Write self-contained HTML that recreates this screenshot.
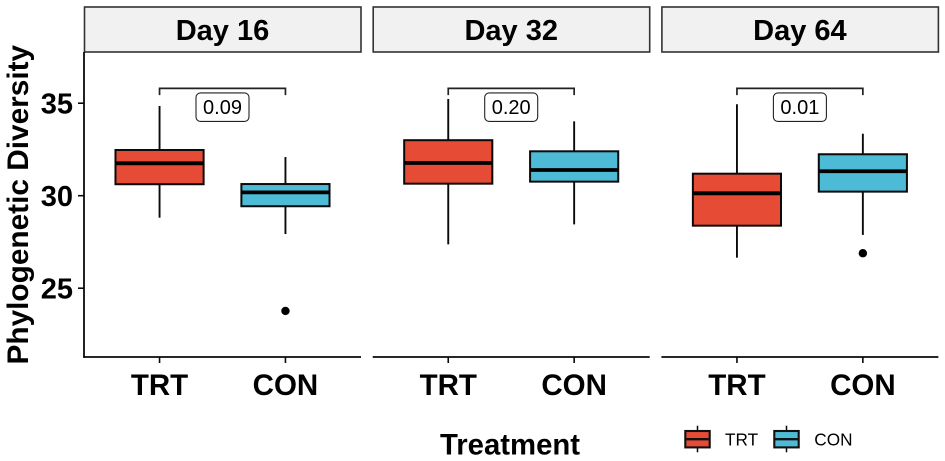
<!DOCTYPE html>
<html lang="en">
<head>
<meta charset="utf-8">
<title>Phylogenetic Diversity by Treatment</title>
<style>
html,body{margin:0;padding:0;background:#fff;width:945px;height:461px;overflow:hidden}
svg{display:block}
text{font-family:"Liberation Sans",Arial,sans-serif;fill:#000}
</style>
</head>
<body>
<svg id="chart" xmlns="http://www.w3.org/2000/svg" width="945" height="461" viewBox="0 0 945 461">
<text transform="translate(28,364.5) rotate(-90)" font-size="29.8" font-weight="700">Phylogenetic Diversity</text>
<text x="440" y="454.5" font-size="29.3" font-weight="700">Treatment</text>
</svg>
<script>
const panelTitles = ['Day 16', 'Day 32', 'Day 64'];
const categories = ['TRT', 'CON'];
const yTicks = [25, 30, 35];
const pLabels = ['0.09', '0.20', '0.01'];
const bracketLevel = 35.8;

const trtWhiskerLow = [28.81, 27.37, 26.65];
const trtQ1 = [30.62, 30.65, 28.38];
const trtMedian = [31.75, 31.77, 30.13];
const trtQ3 = [32.47, 33.00, 31.19];
const trtWhiskerHigh = [34.85, 35.23, 34.94];
const trtOutliers = [[], [], []];

const conWhiskerLow = [27.93, 28.45, 27.88];
const conQ1 = [29.43, 30.76, 30.22];
const conMedian = [30.18, 31.39, 31.32];
const conQ3 = [30.63, 32.40, 32.24];
const conWhiskerHigh = [32.09, 34.02, 33.35];
const conOutliers = [[23.77], [], [26.89]];

const seriesColors = ['#E64B35', '#4DBBD5'];
const INK = '#0a0a0a';
const svg = document.getElementById('chart');
const NS = 'http://www.w3.org/2000/svg';

const panelW = 277;
const panelGap = 11.7;
const plotLeft = 84;
const plotTop = 52;
const plotBottom = 357;

function panelLeft(p) { return plotLeft + p * (panelW + panelGap); }
function yScale(v) { return 195.7 - (v - 30) * 18.5; }
function xStep() { return panelW / 2.2; }
function xScale(p, c) { return panelLeft(p) + xStep() * (0.6 + c); }

function el(parent, tag, attrs, txt) {
  const n = document.createElementNS(NS, tag);
  for (const k in attrs) n.setAttribute(k, attrs[k]);
  if (txt !== undefined) n.textContent = txt;
  parent.appendChild(n);
  return n;
}

function drawBox(g, p, c, low, q1, med, q3, high, outliers) {
  const cx = xScale(p, c);
  const halfW = xStep() * 0.35;
  const whiskerTop = el(g, 'line', {x1: cx, x2: cx, y1: yScale(q3), y2: yScale(high), stroke: INK, 'stroke-width': 1.9});
  
  
  const whiskerBottom = el(g, 'line', {x1: cx, x2: cx, y1: yScale(q1), y2: yScale(low), stroke: INK, 'stroke-width': 1.9});
  
  
  const box = el(g, 'rect', {x: cx - halfW, y: yScale(q3), width: halfW * 2, height: yScale(q1) - yScale(q3), fill: seriesColors[c], stroke: INK, 'stroke-width': 2});
  
  
  const median = el(g, 'line', {x1: cx - halfW, x2: cx + halfW, y1: yScale(med), y2: yScale(med), stroke: '#000', 'stroke-width': 3.8});
  
  
  outliers.forEach(function (v) {
    const dot = el(g, 'circle', {cx: cx, cy: yScale(v), r: 4.2, fill: '#000'});
    
    
  });
}

panelTitles.forEach(function (title, p) {
  const left = panelLeft(p);
  const g = el(svg, 'g', {});
  
  

  const strip = el(g, 'rect', {x: left + 0.5, y: 7, width: panelW - 0.5, height: 45, fill: '#f1f1f1', stroke: '#333', 'stroke-width': 1.6});
  
  
  const stripText = el(g, 'text', {x: left + panelW / 2, y: 40, 'font-size': 29, 'font-weight': 700, 'text-anchor': 'middle'}, title);
  
  

  const xAxis = el(g, 'line', {x1: left - (p === 0 ? 0.8 : 0), x2: left + panelW, y1: plotBottom, y2: plotBottom, stroke: INK, 'stroke-width': 1.8});
  
  

  categories.forEach(function (cat, c) {
    const cx = xScale(p, c);
    const tick = el(g, 'line', {x1: cx, x2: cx, y1: plotBottom, y2: plotBottom + 6, stroke: INK, 'stroke-width': 1.6});
    
    
    const label = el(g, 'text', {x: cx, y: 395, 'font-size': 29.5, 'font-weight': 700, 'text-anchor': 'middle'}, cat);
    
    
  });

  drawBox(g, p, 0, trtWhiskerLow[p], trtQ1[p], trtMedian[p], trtQ3[p], trtWhiskerHigh[p], trtOutliers[p]);
  drawBox(g, p, 1, conWhiskerLow[p], conQ1[p], conMedian[p], conQ3[p], conWhiskerHigh[p], conOutliers[p]);

  const x0 = xScale(p, 0), x1 = xScale(p, 1), by = yScale(bracketLevel);
  const bracket = el(g, 'path', {d: 'M' + x0 + ' ' + (by + 6.7) + 'V' + by + 'H' + x1 + 'V' + (by + 6.7), fill: 'none', stroke: '#222', 'stroke-width': 1.7});
  
  
  const mid = (x0 + x1) / 2;
  const pBox = el(g, 'rect', {x: mid - 26.5, y: by + 4.5, width: 53, height: 28.5, rx: 4.5, fill: '#fff', stroke: '#222', 'stroke-width': 1.1});
  
  
  const pText = el(g, 'text', {x: mid, y: by + 25.5, 'font-size': 20, 'text-anchor': 'middle'}, pLabels[p]);
  
  
});

const yAxis = el(svg, 'line', {x1: plotLeft, x2: plotLeft, y1: plotTop, y2: plotBottom + 0.8, stroke: INK, 'stroke-width': 1.8});



yTicks.forEach(function (t) {
  const tick = el(svg, 'line', {x1: plotLeft - 6, x2: plotLeft, y1: yScale(t), y2: yScale(t), stroke: INK, 'stroke-width': 1.6});
  
  
  const label = el(svg, 'text', {x: 73, y: yScale(t) + 10.5, 'font-size': 29, 'font-weight': 700, 'text-anchor': 'end'}, String(t));
  
  
});

const legendKeyX = [685.3, 774.3];
const legendTextX = [725, 814.3];
categories.forEach(function (cat, c) {
  const g = el(svg, 'g', {});
  
  
  const kx = legendKeyX[c];
  const whisker = el(g, 'line', {x1: kx + 12.2, x2: kx + 12.2, y1: 425.7, y2: 452.3, stroke: INK, 'stroke-width': 1.5});
  
  
  const box = el(g, 'rect', {x: kx, y: 431, width: 24.4, height: 16.4, fill: seriesColors[c], stroke: '#111', 'stroke-width': 2.1});
  
  
  const med = el(g, 'line', {x1: kx, x2: kx + 24.4, y1: 439.2, y2: 439.2, stroke: '#111', 'stroke-width': 2.4});
  
  
  const label = el(g, 'text', {x: legendTextX[c], y: 445.7, 'font-size': 17.2}, cat);
  
  
});
</script>
</body>
</html>
